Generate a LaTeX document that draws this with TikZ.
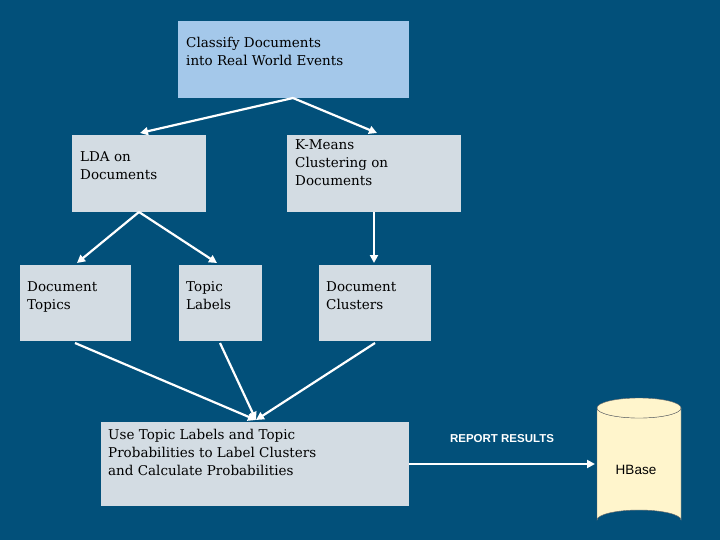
\documentclass[tikz,border=0pt]{standalone}
\usepackage{fontspec}
\setmainfont{DejaVu Serif}
\newfontfamily\lab{Liberation Sans}
\usetikzlibrary{shapes.geometric,arrows.meta}
\definecolor{bg}{HTML}{02507A}
\definecolor{topc}{HTML}{A4C8EA}
\definecolor{boxc}{HTML}{D3DCE3}
\definecolor{cyl}{HTML}{FFF5CC}
\begin{document}
\begin{tikzpicture}[x=1pt,y=-1pt,
  bx/.style={draw=none,fill=boxc,anchor=north west,inner sep=0pt,align=left},
  arr/.style={white,line width=2.2pt,-{Triangle[length=8pt,width=8pt]}},
  txt/.style={anchor=north west,align=left,font=\fontsize{13.5}{18}\selectfont,inner sep=0pt}]
\fill[bg] (0,0) rectangle (720,540);
\useasboundingbox (0,0) rectangle (720,540);
\fill[topc] (178,21) rectangle (409,98); \coordinate (t) at (293,98);
\node[txt] (tt) at (186,37) {Classify Documents\\into Real World Events};
\fill[boxc] (72,135) rectangle (206,212);
\node[txt] (lda) at (80,151) {LDA on\\Documents};
\fill[boxc] (287,135) rectangle (461,212);
\node[txt] (km) at (295,139) {K-Means\\Clustering on\\Documents};
\fill[boxc] (20,265) rectangle (131,341);
\node[txt] (dt) at (27,281) {Document\\Topics};
\fill[boxc] (179,265) rectangle (262,341);
\node[txt] (tl) at (186,281) {Topic\\Labels};
\fill[boxc] (319,265) rectangle (431,341);
\node[txt] (dc) at (326,281) {Document\\Clusters};
\fill[boxc] (101,422) rectangle (409,506);
\node[txt] (use) at (108,429) {Use Topic Labels and Topic\\Probabilities to Label Clusters\\and Calculate Probabilities};
% cylinder
\fill[cyl,draw=black!60] (597,408) -- (597,520) arc[start angle=180,end angle=360,x radius=42,y radius=10] -- (681,408) arc[start angle=0,end angle=180,x radius=42,y radius=10];
\draw[black!60,fill=cyl] (639,408) ellipse[x radius=42,y radius=10];
\node[font=\lab\fontsize{13.5}{16}\selectfont] (hb) at (636,470) {HBase};
\coordinate (a1) at (140,133); \coordinate (a2) at (377,133);
\coordinate (b0) at (139,212); \coordinate (b1) at (77,263); \coordinate (b2) at (217,263);
\coordinate (c0) at (374,212); \coordinate (c1) at (374,263);
\coordinate (d0) at (75,343); \coordinate (d1) at (220,343); \coordinate (d2) at (375,343);
\coordinate (e) at (256,420);
\draw[arr] (t) -- (a1); \draw[arr] (t) -- (a2);
\draw[arr] (b0) -- (b1); \draw[arr] (b0) -- (b2);
\draw[arr] (c0) -- (c1);
\draw[arr] (d0) -- (e); \draw[arr] (d1) -- (e); \draw[arr] (d2) -- (e);
\coordinate (f0) at (409,464); \coordinate (f1) at (595,464);
\draw[arr] (f0) -- (f1);
\node[white,font=\lab\bfseries\fontsize{11.5}{14}\selectfont] (rr) at (502,439) {REPORT RESULTS};
\end{tikzpicture}
\end{document}
